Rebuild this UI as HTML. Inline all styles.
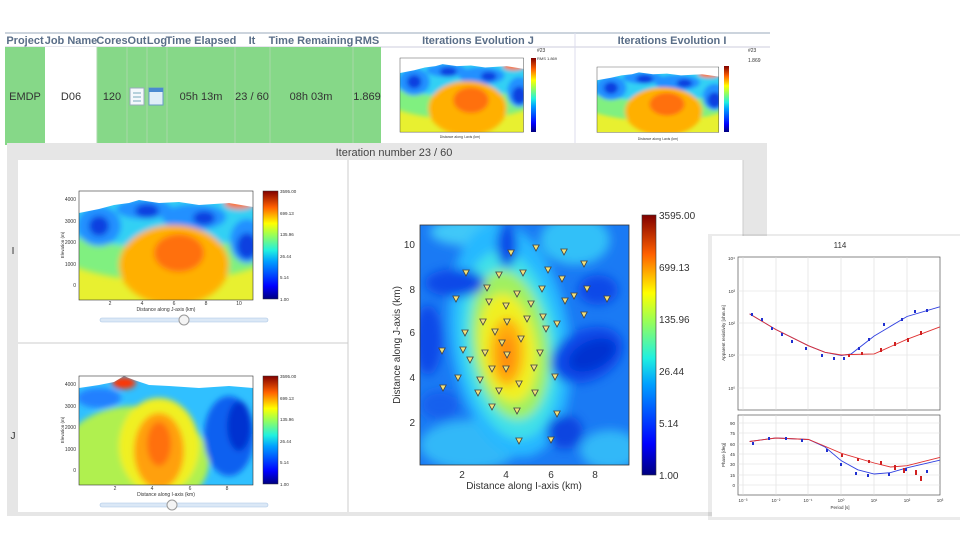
<!DOCTYPE html>
<html><head><meta charset="utf-8"><style>
body{margin:0;width:960px;height:540px;overflow:hidden;background:#fff;font-family:"Liberation Sans",sans-serif;}
svg{position:absolute;left:0;top:0}
</style></head><body>
<svg width="960" height="540" viewBox="0 0 960 540" xmlns="http://www.w3.org/2000/svg" font-family="Liberation Sans, sans-serif">
<defs>
<linearGradient id="jet" x1="0" y1="1" x2="0" y2="0">
<stop offset="0" stop-color="#00007f"/><stop offset="0.12" stop-color="#0000ff"/><stop offset="0.35" stop-color="#00a0ff"/><stop offset="0.45" stop-color="#20f0e0"/><stop offset="0.6" stop-color="#a0ff50"/><stop offset="0.7" stop-color="#ffff00"/><stop offset="0.85" stop-color="#ff6000"/><stop offset="1" stop-color="#800000"/>
</linearGradient>
<filter id="b" x="-20%" y="-20%" width="140%" height="140%"><feGaussianBlur stdDeviation="3"/></filter>
<filter id="b2" x="-20%" y="-20%" width="140%" height="140%"><feGaussianBlur stdDeviation="5"/></filter>
<clipPath id="cp"><rect x="0" y="0" width="174" height="109"/></clipPath>
<g id="iplot">
<g clip-path="url(#cp)">
<rect width="174" height="109" fill="#e8f030"/>
<g filter="url(#b)">
<ellipse cx="87" cy="40" rx="130" ry="50" fill="#80f080"/>
<ellipse cx="87" cy="22" rx="130" ry="34" fill="#30d0f4"/>
<ellipse cx="20" cy="35" rx="22" ry="20" fill="#2090ff"/>
<ellipse cx="115" cy="26" rx="32" ry="13" fill="#2090ff"/>
<ellipse cx="168" cy="50" rx="17" ry="22" fill="#2090ff"/>
<ellipse cx="65" cy="18" rx="28" ry="10" fill="#2090ff"/>
<ellipse cx="20" cy="35" rx="10" ry="10" fill="#1040e0"/>
<ellipse cx="68" cy="20" rx="12" ry="7" fill="#1040e0"/>
<ellipse cx="125" cy="27" rx="11" ry="7" fill="#1040e0"/>
<ellipse cx="168" cy="55" rx="10" ry="13" fill="#1040e0"/>
<ellipse cx="95" cy="74" rx="55" ry="40" fill="#ffb000"/>
<ellipse cx="100" cy="62" rx="25" ry="19" fill="#ff7010"/>
<ellipse cx="160" cy="12" rx="15" ry="6" fill="#ff7010"/>
</g>
<path d="M0,0H174V16L150,12L120,14L100,11L80,12L60,9L50,12L35,14L20,18L0,22Z" fill="#fff"/>
</g>
<rect width="174" height="109" fill="none" stroke="#333" stroke-width="0.6"/>
</g>
<g id="jplot">
<g clip-path="url(#cp)">
<rect width="174" height="109" fill="#30c0ff"/>
<g filter="url(#b)">
<ellipse cx="55" cy="85" rx="75" ry="55" fill="#b0f050"/>
<ellipse cx="80" cy="70" rx="40" ry="48" fill="#f0f020"/>
<ellipse cx="80" cy="75" rx="25" ry="38" fill="#ffa010"/>
<ellipse cx="80" cy="68" rx="12" ry="22" fill="#ff7010"/>
<ellipse cx="150" cy="60" rx="25" ry="40" fill="#1060f0"/>
<ellipse cx="160" cy="50" rx="12" ry="25" fill="#0030d0"/>
<ellipse cx="20" cy="22" rx="22" ry="10" fill="#2080ff"/>
<ellipse cx="45" cy="7" rx="12" ry="6" fill="#ff3000"/>
</g>
<path d="M0,0H174V12L150,10L120,12L90,10L70,9L55,4L45,0L35,6L20,9L0,12Z" fill="#fff"/>
</g>
<rect width="174" height="109" fill="none" stroke="#333" stroke-width="0.6"/>
</g>
<path id="tri" d="M-3.2,-3 L3.2,-3 L0,3Z" fill="#f2e27a" stroke="#444" stroke-width="0.8"/>
</defs>

<rect x="0" y="30" width="960" height="115" fill="#fff"/>
<line x1="5" y1="33" x2="770" y2="33" stroke="#9ab" stroke-width="1"/>
<line x1="5" y1="47" x2="770" y2="47" stroke="#ccd" stroke-width="1"/>
<g font-size="11" font-weight="bold" fill="#5a6e88" text-anchor="middle">
<text x="25" y="44">Project</text><text x="71" y="44">Job Name</text><text x="112" y="44">Cores</text><text x="137" y="44">Out</text><text x="157" y="44">Log</text><text x="201" y="44">Time Elapsed</text><text x="252" y="44">It</text><text x="311" y="44">Time Remaining</text><text x="367" y="44">RMS</text><text x="478" y="44">Iterations Evolution J</text><text x="672" y="44">Iterations Evolution I</text>
</g>
<rect x="5" y="47" width="376" height="98" fill="#86d888"/>
<rect x="45" y="47" width="52" height="98" fill="#fff"/>
<g stroke="#a8d8a8" stroke-width="1"><line x1="97" y1="47" x2="97" y2="145"/><line x1="127" y1="47" x2="127" y2="145"/><line x1="147" y1="47" x2="147" y2="145"/><line x1="167" y1="47" x2="167" y2="145"/><line x1="235" y1="47" x2="235" y2="145"/><line x1="270" y1="47" x2="270" y2="145"/><line x1="353" y1="47" x2="353" y2="145"/></g>
<line x1="575" y1="33" x2="575" y2="145" stroke="#dde"/>
<g font-size="11" fill="#333" text-anchor="middle">
<text x="25" y="100">EMDP</text><text x="71" y="100">D06</text><text x="112" y="100">120</text><text x="201" y="100">05h 13m</text><text x="252" y="100">23 / 60</text><text x="311" y="100">08h 03m</text><text x="367" y="100">1.869</text>
</g>
<rect x="130" y="88" width="14" height="17" fill="#f4f8fc" stroke="#9ab"/><path d="M133,93h8M133,97h8M133,101h8" stroke="#7ab"/>
<rect x="149" y="88" width="14" height="17" fill="#dfeef8" stroke="#6a9ac8"/><rect x="149" y="88" width="14" height="4" fill="#4a8ad0"/>
<use href="#iplot" transform="translate(400,58) scale(0.71,0.68)"/>
<rect x="531" y="58" width="5" height="74" fill="url(#jet)"/>
<text x="537" y="52" font-size="5" fill="#333">#23</text><text x="537" y="60" font-size="4" fill="#333">RMS 1.869</text>
<text x="460" y="138" font-size="3.5" fill="#333" text-anchor="middle">Distance along I-axis (km)</text>
<use href="#iplot" transform="translate(597,67) scale(0.70,0.60)"/>
<rect x="724" y="66" width="5" height="66" fill="url(#jet)"/>
<text x="748" y="52" font-size="5" fill="#333">#23</text><text x="748" y="62" font-size="5" fill="#333">1.869</text>
<text x="658" y="140" font-size="3.5" fill="#333" text-anchor="middle">Distance along I-axis (km)</text>

<rect x="7" y="143" width="760" height="373" fill="#e6e6e6"/>
<text x="394" y="156" font-size="11" fill="#444" text-anchor="middle">Iteration number 23 / 60</text>
<rect x="18" y="160" width="725" height="352" fill="#fff"/>
<line x1="348" y1="160" x2="348" y2="512" stroke="#ccc"/>
<line x1="18" y1="343" x2="348" y2="343" stroke="#ccc"/>
<line x1="743" y1="160" x2="743" y2="512" stroke="#ccc"/>
<text x="13" y="254" font-size="10" fill="#333" text-anchor="middle">I</text>
<text x="13" y="439" font-size="10" fill="#333" text-anchor="middle">J</text>

<use href="#iplot" transform="translate(79,191)"/>
<rect x="263" y="191" width="15" height="108" fill="url(#jet)" stroke="#333" stroke-width="0.5"/>
<g font-size="4.5" fill="#333"><text x="280" y="193">3595.00</text><text x="280" y="215">699.13</text><text x="280" y="236">135.96</text><text x="280" y="258">26.44</text><text x="280" y="279">5.14</text><text x="280" y="301">1.00</text></g>
<g font-size="5" fill="#333" text-anchor="end"><text x="76" y="201">4000</text><text x="76" y="223">3000</text><text x="76" y="244">2000</text><text x="76" y="266">1000</text><text x="76" y="287">0</text></g>
<g font-size="5" fill="#333" text-anchor="middle"><text x="110" y="305">2</text><text x="142" y="305">4</text><text x="174" y="305">6</text><text x="206" y="305">8</text><text x="239" y="305">10</text><text x="166" y="311">Distance along J-axis (km)</text></g>
<text transform="translate(64,245) rotate(-90)" font-size="4.5" fill="#333" text-anchor="middle">Elevation (m)</text>
<rect x="100" y="318" width="168" height="4" rx="2" fill="#dbe8f6" stroke="#a8c4e4" stroke-width="0.6"/>
<circle cx="184" cy="320" r="5" fill="#f4f4f4" stroke="#999"/>

<use href="#jplot" transform="translate(79,376)"/>
<rect x="263" y="376" width="15" height="108" fill="url(#jet)" stroke="#333" stroke-width="0.5"/>
<g font-size="4.5" fill="#333"><text x="280" y="378">3595.00</text><text x="280" y="400">699.13</text><text x="280" y="421">135.96</text><text x="280" y="443">26.44</text><text x="280" y="464">5.14</text><text x="280" y="486">1.00</text></g>
<g font-size="5" fill="#333" text-anchor="end"><text x="76" y="386">4000</text><text x="76" y="408">3000</text><text x="76" y="429">2000</text><text x="76" y="451">1000</text><text x="76" y="472">0</text></g>
<g font-size="5" fill="#333" text-anchor="middle"><text x="115" y="490">2</text><text x="152" y="490">4</text><text x="190" y="490">6</text><text x="227" y="490">8</text><text x="166" y="496">Distance along I-axis (km)</text></g>
<text transform="translate(64,430) rotate(-90)" font-size="4.5" fill="#333" text-anchor="middle">Elevation (m)</text>
<rect x="100" y="503" width="168" height="4" rx="2" fill="#dbe8f6" stroke="#a8c4e4" stroke-width="0.6"/>
<circle cx="172" cy="505" r="5" fill="#f4f4f4" stroke="#999"/>

<clipPath id="mc"><rect x="420" y="225" width="209" height="240"/></clipPath>
<g clip-path="url(#mc)">
<rect x="420" y="225" width="209" height="240" fill="#1a7af4"/>
<g filter="url(#b2)">
<ellipse cx="470" cy="445" rx="50" ry="25" fill="#30b8f8"/>
<ellipse cx="610" cy="450" rx="30" ry="20" fill="#30b8f8"/>
<ellipse cx="470" cy="232" rx="40" ry="14" fill="#40c8f8"/>
<ellipse cx="575" cy="240" rx="35" ry="25" fill="#30c0f8"/>
<ellipse cx="510" cy="340" rx="60" ry="118" fill="#28b8ff" transform="rotate(-8 510 340)"/>
<ellipse cx="510" cy="345" rx="48" ry="95" fill="#40e0e8" transform="rotate(-8 510 345)"/>
<ellipse cx="510" cy="345" rx="38" ry="75" fill="#a0f060" transform="rotate(-8 510 345)"/>
<ellipse cx="508" cy="348" rx="28" ry="55" fill="#f0f020" transform="rotate(-8 508 348)"/>
<ellipse cx="507" cy="352" rx="17" ry="34" fill="#ffb010"/>
<ellipse cx="507" cy="355" rx="7" ry="20" fill="#ff8a10"/>
<ellipse cx="587" cy="355" rx="38" ry="26" fill="#0b4ae8" transform="rotate(-25 587 355)"/>
<ellipse cx="592" cy="355" rx="25" ry="14" fill="#0030d0" transform="rotate(-25 592 355)"/>
<ellipse cx="455" cy="283" rx="30" ry="14" fill="#0c4ae8"/>
<ellipse cx="598" cy="290" rx="20" ry="15" fill="#0c4ae8"/>
<ellipse cx="565" cy="432" rx="18" ry="17" fill="#0b44e0"/>
<ellipse cx="507" cy="245" rx="10" ry="22" fill="#0b4ae8"/>
<ellipse cx="428" cy="340" rx="14" ry="35" fill="#0c4ae8"/>
<ellipse cx="440" cy="405" rx="20" ry="15" fill="#1260ee"/>
</g>
</g>
<rect x="420" y="225" width="209" height="240" fill="none" stroke="#333" stroke-width="0.8"/>
<g>
<use href="#tri" x="511" y="253"/><use href="#tri" x="536" y="248"/><use href="#tri" x="564" y="252"/><use href="#tri" x="584" y="264"/><use href="#tri" x="466" y="273"/><use href="#tri" x="499" y="275"/><use href="#tri" x="523" y="273"/><use href="#tri" x="548" y="270"/><use href="#tri" x="562" y="279"/><use href="#tri" x="487" y="288"/><use href="#tri" x="542" y="289" fill="#d02040"/><use href="#tri" x="517" y="294"/><use href="#tri" x="456" y="299"/><use href="#tri" x="489" y="302" fill="#306040"/><use href="#tri" x="506" y="306"/><use href="#tri" x="531" y="304"/><use href="#tri" x="565" y="301"/><use href="#tri" x="574" y="296"/><use href="#tri" x="587" y="289"/><use href="#tri" x="607" y="299"/><use href="#tri" x="483" y="322"/><use href="#tri" x="507" y="322"/><use href="#tri" x="527" y="319"/><use href="#tri" x="543" y="317"/><use href="#tri" x="557" y="324"/><use href="#tri" x="584" y="315"/><use href="#tri" x="546" y="329"/><use href="#tri" x="495" y="332"/><use href="#tri" x="465" y="333"/><use href="#tri" x="502" y="343"/><use href="#tri" x="521" y="339"/><use href="#tri" x="442" y="351"/><use href="#tri" x="463" y="350"/><use href="#tri" x="485" y="353"/><use href="#tri" x="507" y="355"/><use href="#tri" x="540" y="353"/><use href="#tri" x="470" y="360"/><use href="#tri" x="492" y="369"/><use href="#tri" x="506" y="369"/><use href="#tri" x="534" y="368"/><use href="#tri" x="555" y="377"/><use href="#tri" x="458" y="378"/><use href="#tri" x="480" y="380"/><use href="#tri" x="519" y="384"/><use href="#tri" x="443" y="388"/><use href="#tri" x="478" y="393"/><use href="#tri" x="499" y="391"/><use href="#tri" x="535" y="393"/><use href="#tri" x="492" y="407"/><use href="#tri" x="517" y="411"/><use href="#tri" x="557" y="414"/><use href="#tri" x="519" y="441"/><use href="#tri" x="551" y="440"/>
</g>
<g font-size="10" fill="#333" text-anchor="middle">
<text x="462" y="478">2</text><text x="506" y="478">4</text><text x="551" y="478">6</text><text x="595" y="478">8</text>
<text x="524" y="489">Distance along I-axis (km)</text>
</g>
<g font-size="10" fill="#333" text-anchor="end">
<text x="415" y="248">10</text><text x="415" y="293">8</text><text x="415" y="336">6</text><text x="415" y="381">4</text><text x="415" y="426">2</text>
</g>
<text transform="translate(400,345) rotate(-90)" font-size="10" fill="#333" text-anchor="middle">Distance along J-axis (km)</text>
<rect x="642" y="215" width="14" height="260" fill="url(#jet)" stroke="#333" stroke-width="0.6"/>
<g font-size="10" fill="#333"><text x="659" y="219">3595.00</text><text x="659" y="271">699.13</text><text x="659" y="323">135.96</text><text x="659" y="375">26.44</text><text x="659" y="427">5.14</text><text x="659" y="479">1.00</text></g>

<rect x="708" y="234" width="252" height="286" fill="#000" opacity="0.08"/>
<rect x="712" y="236" width="248" height="281" fill="#fff"/>
<text x="840" y="248" font-size="8" fill="#333" text-anchor="middle">114</text>
<rect x="738" y="257" width="202" height="153" fill="none" stroke="#555" stroke-width="0.7"/>
<rect x="738" y="415" width="202" height="80" fill="none" stroke="#555" stroke-width="0.7"/>
<g stroke="#ddd" stroke-width="0.6">
<path d="M743,257V410M776,257V410M808,257V410M841,257V410M874,257V410M907,257V410M743,415V495M776,415V495M808,415V495M841,415V495M874,415V495M907,415V495"/>
<path d="M738,291H940M738,323H940M738,355H940M738,388H940M738,423H940M738,433H940M738,444H940M738,454H940M738,464H940M738,475H940M738,485H940"/>
</g>
<g font-size="4.5" fill="#333" text-anchor="end"><text x="735" y="260">10⁴</text><text x="735" y="293">10³</text><text x="735" y="325">10²</text><text x="735" y="357">10¹</text><text x="735" y="390">10⁰</text>
<text x="735" y="425">90</text><text x="735" y="435">75</text><text x="735" y="446">60</text><text x="735" y="456">45</text><text x="735" y="466">30</text><text x="735" y="477">15</text><text x="735" y="487">0</text></g>
<g font-size="4.5" fill="#333" text-anchor="middle"><text x="743" y="502">10⁻³</text><text x="776" y="502">10⁻²</text><text x="808" y="502">10⁻¹</text><text x="841" y="502">10⁰</text><text x="874" y="502">10¹</text><text x="907" y="502">10²</text><text x="940" y="502">10³</text><text x="840" y="509">Period [s]</text></g>
<text transform="translate(725,333) rotate(-90)" font-size="4.5" fill="#333" text-anchor="middle">Apparent resistivity [ohm.m]</text>
<text transform="translate(725,455) rotate(-90)" font-size="4.5" fill="#333" text-anchor="middle">Phase [deg]</text>
<g fill="none" stroke-width="0.9">
<path d="M749.6,313.9L775.8,329.5L808.6,345.8L825,352.3L841.4,355.5L851.2,353.9L874.2,336L907,316.5L939.8,306.8" stroke="#3040e0"/>
<path d="M749.6,313.9L775.8,329.5L808.6,345.8L825,352.3L841.4,355L851.2,354.5L874.2,353.9L907,339.3L939.8,326.9" stroke="#e03030"/>
<path d="M749.6,441.5L775.8,438L808.6,439.5L825,447L841.4,460.8L857.8,469.8L874.2,474L890.6,472.6L907,467.8L939.8,460.2" stroke="#3040e0"/>
<path d="M749.6,441.5L775.8,438L808.6,439.5L822,445L841.4,453.3L874.2,463L890.6,467L907,465.7L939.8,457.4" stroke="#e03030"/>
</g>
<g fill="#2030d0">
<rect x="751" y="313" width="2" height="3"/><rect x="761" y="318" width="2" height="3"/><rect x="771" y="327" width="2" height="3"/><rect x="781" y="333" width="2" height="3"/><rect x="791" y="340" width="2" height="3"/><rect x="805" y="347" width="2" height="3"/><rect x="821" y="354" width="2" height="3"/><rect x="833" y="357" width="2" height="3"/><rect x="843" y="357" width="2" height="3"/><rect x="858" y="347" width="2" height="3"/><rect x="868" y="338" width="2" height="3"/><rect x="883" y="323" width="2" height="3"/><rect x="901" y="318" width="2" height="3"/><rect x="914" y="310" width="2" height="3"/><rect x="926" y="309" width="2" height="3"/>
<rect x="752" y="442" width="2" height="3"/><rect x="768" y="437" width="2" height="3"/><rect x="785" y="437" width="2" height="3"/><rect x="801" y="439" width="2" height="3"/><rect x="826" y="449" width="2" height="3"/><rect x="840" y="463" width="2" height="3"/><rect x="855" y="472" width="2" height="3"/><rect x="867" y="474" width="2" height="3"/><rect x="888" y="473" width="2" height="3"/><rect x="905" y="468" width="2" height="3"/><rect x="926" y="470" width="2" height="3"/>
</g>
<g fill="#d02020">
<rect x="848" y="354" width="2" height="3"/><rect x="861" y="352" width="2" height="3"/><rect x="880" y="348" width="2" height="4"/><rect x="894" y="342" width="2" height="4"/><rect x="907" y="338" width="2" height="4"/><rect x="920" y="331" width="2" height="4"/>
<rect x="841" y="454" width="2" height="3"/><rect x="857" y="458" width="2" height="3"/><rect x="868" y="460" width="2" height="3"/><rect x="880" y="461" width="2" height="4"/><rect x="894" y="465" width="2" height="5"/><rect x="903" y="468" width="2" height="5"/><rect x="915" y="470" width="2" height="5"/><rect x="920" y="476" width="2" height="5"/>
</g>
</svg>
</body></html>
